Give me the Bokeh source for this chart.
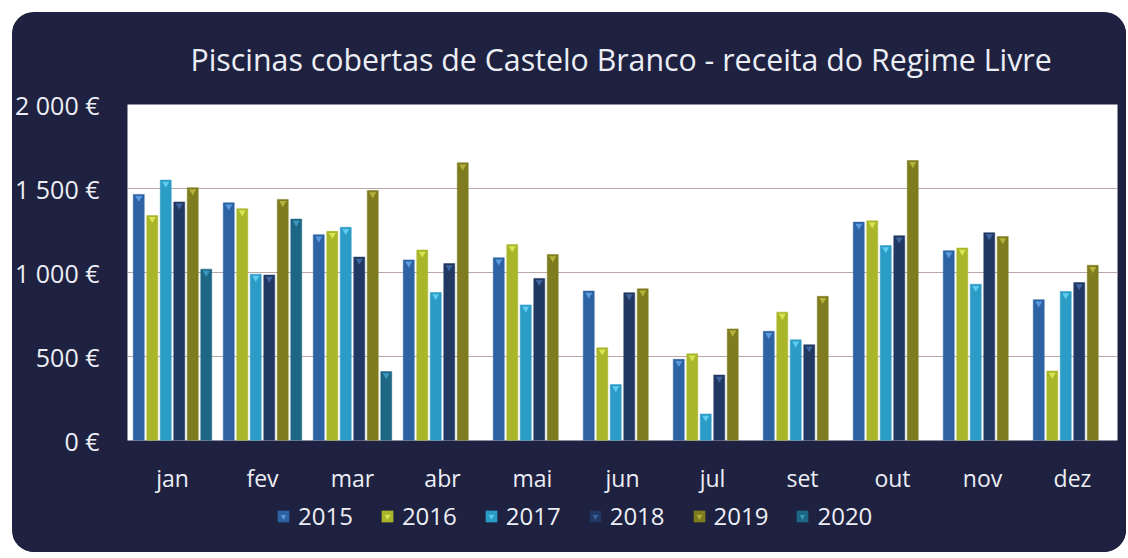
from bokeh.plotting import figure
from bokeh.layouts import column
from bokeh.models import (FactorRange, Range1d, FixedTicker, Legend, LegendItem,
                          ColumnDataSource)
from bokeh.transform import dodge
from bokeh.embed import file_html
from bokeh.resources import INLINE

# ---- data ----
months = ["jan", "fev", "mar", "abr", "mai", "jun", "jul", "set", "out", "nov", "dez"]
years = ["2015", "2016", "2017", "2018", "2019", "2020"]
v2015 = [1465, 1415, 1225, 1075, 1088, 890, 483, 650, 1300, 1130, 838]
v2016 = [1340, 1380, 1245, 1134, 1166, 552, 516, 764, 1308, 1146, 413]
v2017 = [1550, 990, 1269, 881, 807, 333, 158, 599, 1160, 930, 887]
v2018 = [1420, 985, 1092, 1053, 965, 880, 390, 570, 1219, 1237, 940]
v2019 = [1505, 1435, 1488, 1653, 1107, 903, 664, 858, 1667, 1214, 1043]
v2020 = [1020, 1318, 410, None, None, None, None, None, None, None, None]
y_ticks = [0, 500, 1000, 1500, 2000]
y_tick_labels = ["0 €", "500 €", "1 000 €", "1 500 €", "2 000 €"]
title_text = "Piscinas cobertas de Castelo Branco - receita do Regime Livre"

series = [v2015, v2016, v2017, v2018, v2019, v2020]
colors = ["#2d62a3", "#a9b62a", "#2b9cc6", "#213862", "#7e7c1e", "#1e6784"]
tops = ["#5a9be0", "#d8e450", "#5fcbee", "#3f66a0", "#b5b23c", "#3a98bb"]
offsets = [-0.375, -0.225, -0.075, 0.075, 0.225, 0.375]

BG = "#1f2140"
TXT = "#eceef5"
FONT = "Open Sans"
W = 1114

p = figure(x_range=FactorRange(factors=months, range_padding=0),
           y_range=Range1d(0, 2000),
           width=W, height=484,
           output_backend="svg", toolbar_location=None,
           min_border_left=114, min_border_right=9,
           min_border_top=88, min_border_bottom=53,
           background_fill_color="white", border_fill_color=BG,
           outline_line_color=None)

p.title.text = title_text
p.title.align = "left"
p.title.offset = 63
p.title.text_font = FONT
p.title.text_font_size = "30.3px"
p.title.text_font_style = "normal"
p.title.text_color = TXT
p.title.text_line_height = 1.0
p.title.standoff = 49

# legend strip below the chart (same data, drawn out of view, only for the legend)
lf = figure(x_range=FactorRange(factors=months, range_padding=0),
            y_range=Range1d(5000, 5001), width=W, height=56,
            output_backend="svg", toolbar_location=None,
            x_axis_location=None, y_axis_location=None,
            min_border_left=0, min_border_right=0,
            min_border_top=0, min_border_bottom=0,
            background_fill_color=BG, border_fill_color=BG,
            outline_line_color=None)
lf.grid.visible = False

items = []
for yr, vals, col, tcol, off in zip(years, series, colors, tops, offsets):
    xs = [m for m, v in zip(months, vals) if v is not None]
    ys = [v for v in vals if v is not None]
    src = ColumnDataSource(dict(x=xs, top=ys, tri=[v - 22 for v in ys]))
    p.vbar(x=dodge("x", off, range=p.x_range), top="top", width=0.122,
           source=src, fill_color=col, line_color=col, line_width=0.5)
    p.scatter(x=dodge("x", off, range=p.x_range), y="tri", source=src,
              marker="inverted_triangle", size=7, fill_color=tcol,
              line_color=None)
    r = lf.vbar(x="x", top="top", width=0.122, source=src,
                fill_color=col, line_color=col, line_width=0.5)
    t = lf.scatter(x="x", y="tri", source=src, marker="inverted_triangle",
                   size=8, fill_color=tcol, line_color=None)
    items.append(LegendItem(label=yr, renderers=[r, t]))

p.xgrid.visible = False
p.ygrid.ticker = FixedTicker(ticks=[500, 1000, 1500])
p.ygrid.grid_line_color = "#b9a8a8"
p.ygrid.grid_line_width = 1

p.yaxis.ticker = FixedTicker(ticks=y_ticks)
p.yaxis.major_label_overrides = {t: l for t, l in zip(y_ticks, y_tick_labels)}
for ax in (p.xaxis[0], p.yaxis[0]):
    ax.axis_line_color = None
    ax.major_tick_line_color = None
    ax.minor_tick_line_color = None
    ax.major_tick_out = 0
    ax.major_tick_in = 0
    ax.minor_tick_out = 0
    ax.major_label_text_color = TXT
    ax.major_label_text_font = FONT
p.yaxis.major_label_text_font_size = "25px"
p.xaxis.major_label_text_font_size = "23px"
p.yaxis.major_label_standoff = 28
p.xaxis.major_label_standoff = 21

legend = Legend(items=items, orientation="horizontal", location=(149, 20),
                background_fill_alpha=0, border_line_color=None,
                label_text_color=TXT, label_text_font=FONT,
                label_text_font_size="24px", glyph_width=14, glyph_height=14,
                label_standoff=8, spacing=27, padding=0, margin=0)
lf.add_layout(legend)

layout = column(p, lf, spacing=0)
layout.styles = {"border-radius": "22px", "overflow": "hidden",
                 "margin-top": "12px", "margin-left": "12px",
                 "background-color": BG}

open("out.html", "w").write(file_html(layout, INLINE))
